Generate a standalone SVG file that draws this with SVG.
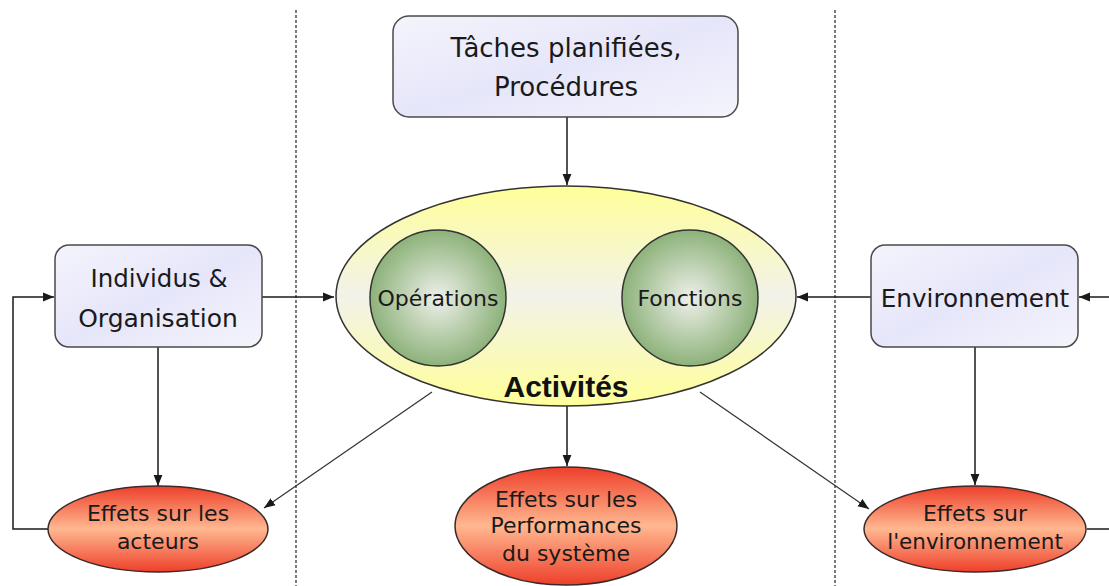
<svg xmlns="http://www.w3.org/2000/svg" width="1109" height="586" viewBox="0 0 1109 586">
<style>
.box{stroke:#4a4a4a;stroke-width:1.5;fill:url(#gBox)}
.red{stroke:#3a2a2a;stroke-width:1.5;fill:url(#gRed)}
.grn{stroke:#333;stroke-width:1.5;fill:url(#gGrn)}
.t{font-family:"DejaVu Sans",Verdana,sans-serif;fill:#1a1a1a;text-anchor:middle}
.c{fill:none;stroke:#1a1a1a;stroke-width:1.5}
.d{fill:none;stroke:#222;stroke-width:1.2;stroke-dasharray:3 2}
</style>
<defs>
<linearGradient id="gBox" x1="0" y1="0" x2="1" y2="1">
<stop offset="0" stop-color="#f4f4fc"/><stop offset="0.5" stop-color="#e6e6fa"/><stop offset="1" stop-color="#f4f4fc"/>
</linearGradient>
<linearGradient id="gYel" x1="0" y1="0" x2="0" y2="1">
<stop offset="0" stop-color="#ffff99"/><stop offset="0.5" stop-color="#f2f2ea"/><stop offset="1" stop-color="#ffff99"/>
</linearGradient>
<linearGradient id="gRed" x1="0" y1="0" x2="0" y2="1">
<stop offset="0" stop-color="#ee3f2a"/><stop offset="0.5" stop-color="#ffb890"/><stop offset="1" stop-color="#ee3f2a"/>
</linearGradient>
<radialGradient id="gGrn" cx="0.5" cy="0.5" r="0.5">
<stop offset="0" stop-color="#eef0ea"/><stop offset="1" stop-color="#8db27a"/>
</radialGradient>
<marker id="ar" viewBox="0 0 10 10" refX="10" refY="5" markerWidth="11" markerHeight="11" markerUnits="userSpaceOnUse" orient="auto">
<path d="M0,1 L10,5 L0,9 Z" fill="#1a1a1a"/>
</marker>
</defs>
<rect width="1109" height="586" fill="#ffffff"/>
<g id="separators">
<line class="d" x1="296" y1="10" x2="296" y2="586"/>
<line class="d" x1="835" y1="10" x2="835" y2="586"/>
</g>
<g id="connectors">
<line class="c" x1="567" y1="117" x2="567" y2="185" marker-end="url(#ar)"/>
<line class="c" x1="262" y1="297" x2="334" y2="297" marker-end="url(#ar)"/>
<line class="c" x1="871" y1="297" x2="797" y2="297" marker-end="url(#ar)"/>
<line class="c" x1="1109" y1="297" x2="1079" y2="297" marker-end="url(#ar)"/>
<line class="c" x1="158" y1="347" x2="158" y2="486" marker-end="url(#ar)"/>
<line class="c" x1="975" y1="347" x2="975" y2="485" marker-end="url(#ar)"/>
<line class="c" x1="567" y1="406" x2="567" y2="466" marker-end="url(#ar)"/>
<line class="c" x1="432" y1="392" x2="264" y2="508" marker-end="url(#ar)" style="stroke:#333;stroke-width:1.2"/>
<line class="c" x1="700" y1="392" x2="869" y2="509" marker-end="url(#ar)" style="stroke:#333;stroke-width:1.2"/>
<polyline class="c" points="48,529 13,529 13,297 54,297" marker-end="url(#ar)"/>
<line class="c" x1="1087" y1="529" x2="1109" y2="529"/>
</g>
<g id="taches">
<rect class="box" x="393" y="16" width="345" height="101" rx="16"/>
<text class="t" x="566" y="57" font-size="26">Tâches planifiées,</text>
<text class="t" x="566" y="96" font-size="26">Procédures</text>
</g>
<g id="activites">
<ellipse cx="566" cy="296" rx="230" ry="110" fill="url(#gYel)" stroke="#333" stroke-width="1.5"/>
<text x="566" y="397" font-family="'Liberation Sans',Arial,sans-serif" font-weight="bold" font-size="30" text-anchor="middle" fill="#111">Activités</text>
</g>
<g id="operations">
<circle class="grn" cx="438" cy="298" r="68"/>
<text class="t" x="438" y="306" font-size="22">Opérations</text>
</g>
<g id="fonctions">
<circle class="grn" cx="690" cy="298" r="68"/>
<text class="t" x="690" y="306" font-size="22">Fonctions</text>
</g>
<g id="individus">
<rect class="box" x="55" y="245" width="207" height="102" rx="14"/>
<text class="t" x="159" y="287" font-size="24.5">Individus &amp;</text>
<text class="t" x="158" y="327" font-size="25">Organisation</text>
</g>
<g id="environnement">
<rect class="box" x="871" y="245" width="207" height="102" rx="14"/>
<text class="t" x="975" y="307" font-size="24.7">Environnement</text>
</g>
<g id="effets-acteurs">
<ellipse class="red" cx="158" cy="529" rx="110" ry="43"/>
<text class="t" x="158" y="521" font-size="22">Effets sur les</text>
<text class="t" x="158" y="549" font-size="22">acteurs</text>
</g>
<g id="effets-performances">
<ellipse class="red" cx="566" cy="526" rx="111" ry="59"/>
<text class="t" x="566" y="507" font-size="22">Effets sur les</text>
<text class="t" x="566" y="533" font-size="22">Performances</text>
<text class="t" x="566" y="561" font-size="22">du système</text>
</g>
<g id="effets-environnement">
<ellipse class="red" cx="975" cy="529" rx="111" ry="43"/>
<text class="t" x="975" y="521" font-size="22">Effets sur</text>
<text class="t" x="975" y="549" font-size="21.5">l'environnement</text>
</g>
</svg>
